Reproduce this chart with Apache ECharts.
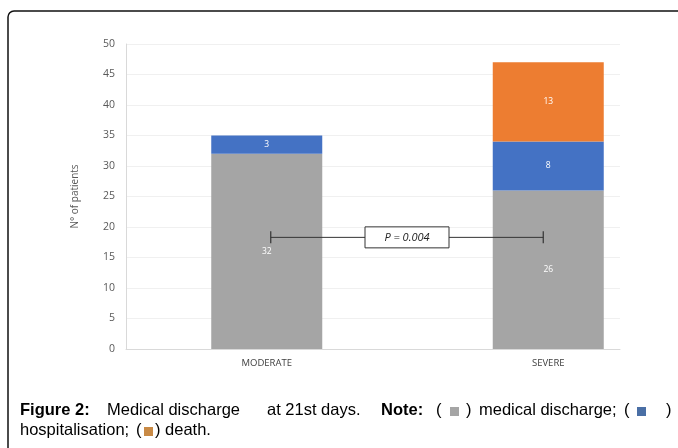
<!DOCTYPE html>
<html><head><meta charset="utf-8">
<script src="https://cdn.jsdelivr.net/npm/echarts@6/dist/echarts.min.js"></script>
<style>html,body{margin:0;padding:0;background:#fff}#c{width:678px;height:448px}</style>
</head><body><div id="c"></div>
<script>
const categories = ['MODERATE', 'SEVERE'];
const medicalDischarge = [32, 26];
const hospitalisation = [3, 8];
const death = [null, 13];
const yTicks = [0, 5, 10, 15, 20, 25, 30, 35, 40, 45, 50];
const bracketLevel = 18.3;
const pText = 'P = 0.004';

// category i is centred at i + 0.5 on a 0-based value scale
const pos = i => i + 0.5;
// value first so that the y dimension is the stacked one
const toPairs = arr => arr.map((v, i) => [v == null ? '-' : v, pos(i)]);

const chart = echarts.init(document.getElementById('c'), null, {renderer: 'canvas'});
const lbl = {show: true, position: 'inside', color: '#fff', fontSize: 8.5, fontFamily: 'Open Sans',
  formatter: p => p.value[0] === '-' ? '' : String(p.value[0])};
const font = 'Liberation Sans';
const cap = (x, y, t, bold) => ({type: 'text', left: x, top: y, style: {text: t, font: (bold ? 'bold ' : '') + '16.5px "' + font + '"', fill: '#000'}});
const sw = (x, y, c) => ({type: 'rect', shape: {x: x, y: y, width: 9, height: 9}, style: {fill: c}});
const barSeries = (arr, color) => ({type: 'bar', stack: 'a', data: toPairs(arr), encode: {x: 1, y: 0},
  barWidth: 111, itemStyle: {color: color}, label: lbl});
chart.setOption({
  animation: false,
  backgroundColor: '#fff',
  grid: {left: 126, width: 494, top: 44, height: 305},
  xAxis: {type: 'value', min: 0, max: 494 / 281.5, interval: 0.5,
    axisLine: {show: true, lineStyle: {color: '#d9d9d9'}}, axisTick: {show: false}, splitLine: {show: false},
    axisLabel: {color: '#404040', fontSize: 9.5, fontFamily: 'Open Sans', margin: 9,
      showMinLabel: true, showMaxLabel: false,
      formatter: v => { const i = Math.round(v - 0.5); return Math.abs(v - pos(i)) < 1e-6 && categories[i] ? categories[i] : ''; }}},
  yAxis: {type: 'value', min: 0, max: 50, interval: 5,
    name: 'N° of patients', nameLocation: 'middle', nameGap: 46, nameRotate: 90,
    nameTextStyle: {color: '#595959', fontSize: 10, fontFamily: 'Open Sans'},
    axisLine: {show: true, lineStyle: {color: '#d9d9d9'}}, axisTick: {show: false},
    axisLabel: {color: '#595959', fontSize: 10.5, fontFamily: 'Open Sans', margin: 11,
      formatter: v => yTicks.includes(v) ? String(v) : ''},
    splitLine: {lineStyle: {color: '#f0f0f0'}}},
  series: [
    barSeries(medicalDischarge, '#a5a5a5'),
    barSeries(hospitalisation, '#4472c4'),
    barSeries(death, '#ed7d31'),
    {type: 'custom', data: [[pos(0), bracketLevel]], z: 10,
      renderItem: (params, api) => {
        const a = api.coord([pos(0), bracketLevel]);
        const b = api.coord([pos(1), bracketLevel]);
        const x1 = a[0] + 4, x2 = b[0] - 5, y = a[1];
        const mx = (x1 + x2) / 2;
        return {type: 'group', children: [
          {type: 'line', shape: {x1: x1, y1: y, x2: x2, y2: y}, style: {stroke: '#333', lineWidth: 1}},
          {type: 'line', shape: {x1: x1, y1: y - 6, x2: x1, y2: y + 6}, style: {stroke: '#333', lineWidth: 1.2}},
          {type: 'line', shape: {x1: x2, y1: y - 6, x2: x2, y2: y + 6}, style: {stroke: '#333', lineWidth: 1.2}},
          {type: 'rect', shape: {x: mx - 42, y: y - 10.5, width: 84, height: 21}, style: {fill: '#fff', stroke: '#333', lineWidth: 1}},
          {type: 'text', x: mx, y: y, style: {text: pText, align: 'center', verticalAlign: 'middle', font: 'italic 11px "Open Sans"', fill: '#222'}}
        ]};
      }}
  ],
  graphic: [
    {type: 'rect', z: 60, shape: {x: 8, y: 11, width: 700, height: 460, r: 6}, style: {fill: 'none', stroke: '#111', lineWidth: 1.5}},
    cap(20, 402, 'Figure 2:', true),
    cap(107, 402, 'Medical discharge', false),
    cap(267, 402, 'at 21st days.', false),
    cap(381, 402, 'Note:', true),
    cap(436, 402, '(', false),
    sw(450, 407, '#a5a5a5'),
    cap(466, 402, ')', false),
    cap(479, 402, 'medical discharge;', false),
    cap(624, 402, '(', false),
    sw(637, 407, '#4a6fa5'),
    cap(666, 402, ')', false),
    cap(20, 422, 'hospitalisation;', false),
    cap(136, 422, '(', false),
    sw(144, 427, '#c98a45'),
    cap(155, 422, ') death.', false)
  ]
});
</script></body></html>
